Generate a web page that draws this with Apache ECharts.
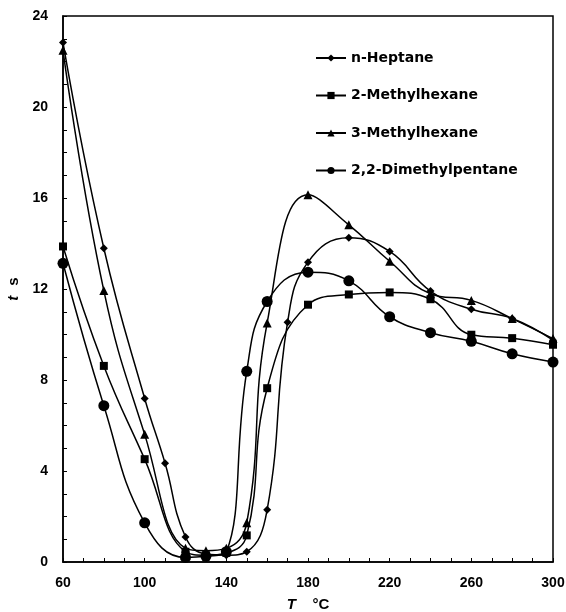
<!DOCTYPE html>
<html><head><meta charset="utf-8">
<script src="https://cdn.jsdelivr.net/npm/echarts@6/dist/echarts.min.js"></script>
<style>html,body{margin:0;padding:0;background:#fff}#c{width:566px;height:612px}</style>
</head><body><div id="c"></div>
<script>
const seriesNames = ['n-Heptane', '2-Methylhexane', '3-Methylhexane', '2,2-Dimethylpentane'];
const heptaneT = [60, 80, 100, 110, 120, 130, 140, 150, 160, 170, 180, 200, 220, 240, 260, 280, 300];
const heptaneV = [22.83, 13.79, 7.19, 4.34, 1.1, 0.35, 0.3, 0.45, 2.3, 10.54, 13.18, 14.25, 13.65, 11.91, 11.11, 10.7, 9.75];
const otherT = [60, 80, 100, 120, 130, 140, 150, 160, 180, 200, 220, 240, 260, 280, 300];
const mh2V = [13.87, 8.62, 4.52, 0.45, 0.3, 0.4, 1.17, 7.64, 11.31, 11.76, 11.85, 11.55, 9.99, 9.84, 9.55];
const mh3V = [22.49, 11.93, 5.61, 0.6, 0.5, 0.6, 1.72, 10.51, 16.14, 14.82, 13.22, 11.79, 11.5, 10.7, 9.82];
const dmpV = [13.13, 6.87, 1.72, 0.2, 0.25, 0.45, 8.38, 11.45, 12.74, 12.36, 10.78, 10.08, 9.7, 9.15, 8.79];
const xTicks = [60, 100, 140, 180, 220, 260, 300];
const yTicks = [0, 4, 8, 12, 16, 20, 24];

const pair = (xs, ys) => xs.map((x, i) => [x, ys[i]]);
const symbols = ['diamond', 'rect', 'triangle', 'circle'];
const sizes = [8, 8, 9, 11];
const datas = [pair(heptaneT, heptaneV), pair(otherT, mh2V), pair(otherT, mh3V), pair(otherT, dmpV)];

const chart = echarts.init(document.getElementById('c'));
chart.setOption({
  animation: false,
  backgroundColor: '#fff',
  grid: { left: 63, right: 13, top: 16, bottom: 50, outerBoundsMode: 'none', containLabel: false,
    show: true, borderColor: '#000', borderWidth: 1.5, backgroundColor: 'transparent' },
  legend: {
    orient: 'vertical', left: 310, top: 46, itemWidth: 30, itemHeight: 9, itemGap: 23.5,
    textStyle: { fontFamily: 'DejaVu Sans', fontWeight: 'bold', fontSize: 14, color: '#000' },
    data: seriesNames
  },
  xAxis: {
    type: 'value', min: 60, max: 300, interval: 40,
    name: '{i|T}     {n|°C}', nameLocation: 'middle', nameGap: 35,
    nameTextStyle: { rich: {
      i: { fontFamily: 'Liberation Sans', fontStyle: 'italic', fontWeight: 'bold', fontSize: 15, color: '#000' },
      n: { fontFamily: 'Liberation Sans', fontWeight: 'bold', fontSize: 15, color: '#000' } } },
    axisLine: { lineStyle: { color: '#000', width: 1.5 } },
    axisTick: { inside: true, length: 4, lineStyle: { color: '#000' } },
    minorTick: { show: true, splitNumber: 4, length: 4, lineStyle: { color: '#000' } },
    splitLine: { show: false },
    axisLabel: { margin: 14, fontFamily: 'Liberation Sans', fontWeight: 'bold', fontSize: 14, color: '#000',
      formatter: v => xTicks.includes(v) ? String(v) : '' }
  },
  yAxis: {
    type: 'value', min: 0, max: 24, interval: 4,
    name: '{i|t}   {n|s}', nameLocation: 'middle', nameGap: 36, nameRotate: 90,
    nameTextStyle: { rich: {
      i: { fontFamily: 'Liberation Sans', fontStyle: 'italic', fontWeight: 'bold', fontSize: 15, color: '#000' },
      n: { fontFamily: 'Liberation Sans', fontWeight: 'bold', fontSize: 15, color: '#000' } } },
    axisLine: { show: true, lineStyle: { color: '#000', width: 1.5 } },
    axisTick: { show: true, inside: true, length: 4, lineStyle: { color: '#000' } },
    minorTick: { show: true, splitNumber: 4, length: 4, lineStyle: { color: '#000' } },
    splitLine: { show: false },
    axisLabel: { margin: 15, fontFamily: 'Liberation Sans', fontWeight: 'bold', fontSize: 14, color: '#000',
      formatter: v => yTicks.includes(v) ? String(v) : '' }
  },
  series: seriesNames.map((n, k) => ({
    name: n, type: 'line', data: datas[k], smooth: 0.45,
    symbol: symbols[k], symbolSize: sizes[k],
    lineStyle: { color: '#000', width: 1.5 },
    itemStyle: { color: '#000' }
  }))
});
</script></body></html>
